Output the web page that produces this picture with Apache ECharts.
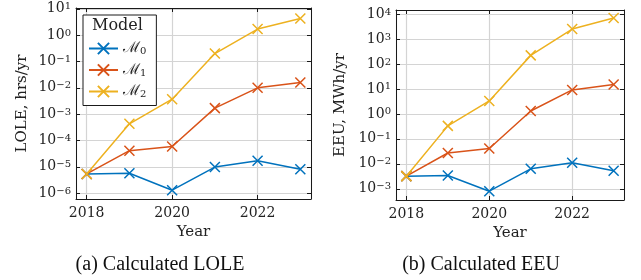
<!DOCTYPE html>
<html>
<head>
<meta charset="utf-8">
<script src="https://cdn.jsdelivr.net/npm/echarts@6/dist/echarts.min.js"></script>
<style>
html, body { margin: 0; padding: 0; background: #fff; }
#chart { width: 641px; height: 280px; }
</style>
</head>
<body>
<div id="chart"></div>
<script>
// data
var years = [2018, 2019, 2020, 2021, 2022, 2023];
var modelNames = ['M0', 'M1', 'M2'];
var lole_m0 = [5.4e-6, 5.7e-6, 1.3e-6, 9.8e-6, 1.7e-5, 8.1e-6];
var lole_m1 = [5.4e-6, 4.1e-5, 5.9e-5, 1.7e-3, 1.0e-2, 1.6e-2];
var lole_m2 = [5.4e-6, 4.3e-4, 3.7e-3, 0.2, 1.7, 4.3];
var eeu_m0 = [3.2e-3, 3.4e-3, 8.0e-4, 6.3e-3, 1.1e-2, 5.3e-3];
var eeu_m1 = [3.2e-3, 2.7e-2, 4.1e-2, 1.3, 9.1, 15];
var eeu_m2 = [3.2e-3, 0.33, 3.3, 220, 2500, 6900];
var xTicks = [2018, 2020, 2022];
var colors = ['#0072BD', '#D95319', '#EDB120'];

var frameColor = '#1a1a1a';
var gridColor = '#d4d4d4';
var serif = 'DejaVu Serif';

function pairs(vals) {
	var out = [];
	for (var i = 0; i < years.length; i++) {
		out.push([years[i], vals[i]]);
	}
	return out;
}

// 10^n labels, only on whole decades
function powLabel(v) {
	var e = Math.log(v) / Math.LN10;
	var r = Math.round(e);
	if (Math.abs(e - r) > 1e-6) return '';
	return '10{s|' + String(r).replace('-', '\u2212') + '}';
}

function yearLabel(v) {
	return xTicks.indexOf(v) >= 0 ? String(v) : '';
}

function xAxisFor(grid, pos) {
	var bottom = pos === 'bottom';
	return {
		type: 'value',
		gridIndex: grid,
		position: pos,
		min: 2017.75,
		max: 2023.25,
		splitNumber: 3,
		axisLine: { show: true, onZero: false, lineStyle: { color: frameColor, width: 1 } },
		axisTick: { show: true, inside: true, length: 4, lineStyle: { color: frameColor } },
		axisLabel: { show: bottom, formatter: yearLabel, margin: 7, color: '#222', fontFamily: serif, fontSize: 14 },
		splitLine: { show: bottom, lineStyle: { color: gridColor, width: 1.2 } },
		name: bottom ? 'Year' : '',
		nameLocation: 'middle',
		nameGap: 26,
		nameTextStyle: { color: '#222', fontFamily: serif, fontSize: 15 }
	};
}

function yAxisFor(grid, pos, lo, hi, title, gap) {
	var left = pos === 'left';
	return {
		type: 'log',
		logBase: 10,
		gridIndex: grid,
		position: pos,
		min: Math.pow(10, lo),
		max: Math.pow(10, hi),
		axisLine: { show: true, lineStyle: { color: frameColor, width: 1 } },
		axisTick: { show: true, inside: true, length: 4, lineStyle: { color: frameColor } },
		axisLabel: {
			show: left,
			formatter: powLabel,
			margin: 5,
			color: '#222',
			fontFamily: serif,
			fontSize: 14,
			rich: {
				s: { fontSize: 10, fontFamily: serif, color: '#222', verticalAlign: 'top', lineHeight: 10 }
			}
		},
		splitLine: { show: left, lineStyle: { color: gridColor, width: 1.2 } },
		name: left ? title : '',
		nameLocation: 'middle',
		nameGap: gap,
		nameTextStyle: { color: '#222', fontFamily: serif, fontSize: 15 }
	};
}

function lineSeries(name, idx, axis, vals) {
	return {
		name: name,
		type: 'line',
		xAxisIndex: axis,
		yAxisIndex: axis,
		data: pairs(vals),
		symbol: 'path://M0,0L10,10M10,0L0,10',
		symbolSize: 10,
		showAllSymbol: true,
		lineStyle: { color: colors[idx], width: 1.5 },
		itemStyle: { color: colors[idx], borderColor: colors[idx], borderWidth: 1.5 },
		emphasis: { disabled: true },
		z: 3 + idx
	};
}

var chart = echarts.init(document.getElementById('chart'));
var option = {
	backgroundColor: '#fff',
	animation: false,
	grid: [
		{ left: 76, top: 8, width: 235, height: 191 },
		{ left: 396, top: 10, width: 228, height: 190 }
	],
	xAxis: [
		xAxisFor(0, 'bottom'),
		xAxisFor(0, 'top'),
		xAxisFor(1, 'bottom'),
		xAxisFor(1, 'top')
	],
	yAxis: [
		yAxisFor(0, 'left', -6.22, 1.03, 'LOLE, hrs/yr', 46),
		yAxisFor(0, 'right', -6.22, 1.03, '', 0),
		yAxisFor(1, 'left', -3.45, 4.16, 'EEU, MWh/yr', 48),
		yAxisFor(1, 'right', -3.45, 4.16, '', 0)
	],
	legend: {
		data: modelNames,
		orient: 'vertical',
		left: 83,
		top: 15,
		padding: [26, 10, 6, 5],
		itemGap: 6,
		itemWidth: 29,
		itemHeight: 14,
		backgroundColor: '#fff',
		borderColor: frameColor,
		borderWidth: 1,
		formatter: function (name) {
			return '{m|\u2133}{b|' + name.slice(1) + '}';
		},
		textStyle: {
			color: '#222',
			rich: {
				m: { fontFamily: serif, fontSize: 15, color: '#222', lineHeight: 16 },
				b: { fontFamily: serif, fontSize: 10, color: '#222', verticalAlign: 'bottom', lineHeight: 12 }
			}
		}
	},
	graphic: [
		{ type: 'text', left: 92, top: 18, z: 100, style: { text: 'Model', fill: '#222', font: '16px "DejaVu Serif"' } },
		{ type: 'text', x: 160, y: 265, style: { text: '(a) Calculated LOLE', fill: '#111', font: '20px "Liberation Serif"', textAlign: 'center', textVerticalAlign: 'middle' } },
		{ type: 'text', x: 481, y: 265, style: { text: '(b) Calculated EEU', fill: '#111', font: '20px "Liberation Serif"', textAlign: 'center', textVerticalAlign: 'middle' } }
	],
	series: [
		lineSeries('M0', 0, 0, lole_m0),
		lineSeries('M1', 1, 0, lole_m1),
		lineSeries('M2', 2, 0, lole_m2),
		lineSeries('M0', 0, 2, eeu_m0),
		lineSeries('M1', 1, 2, eeu_m1),
		lineSeries('M2', 2, 2, eeu_m2)
	]
};
chart.setOption(option);
</script>
</body>
</html>
